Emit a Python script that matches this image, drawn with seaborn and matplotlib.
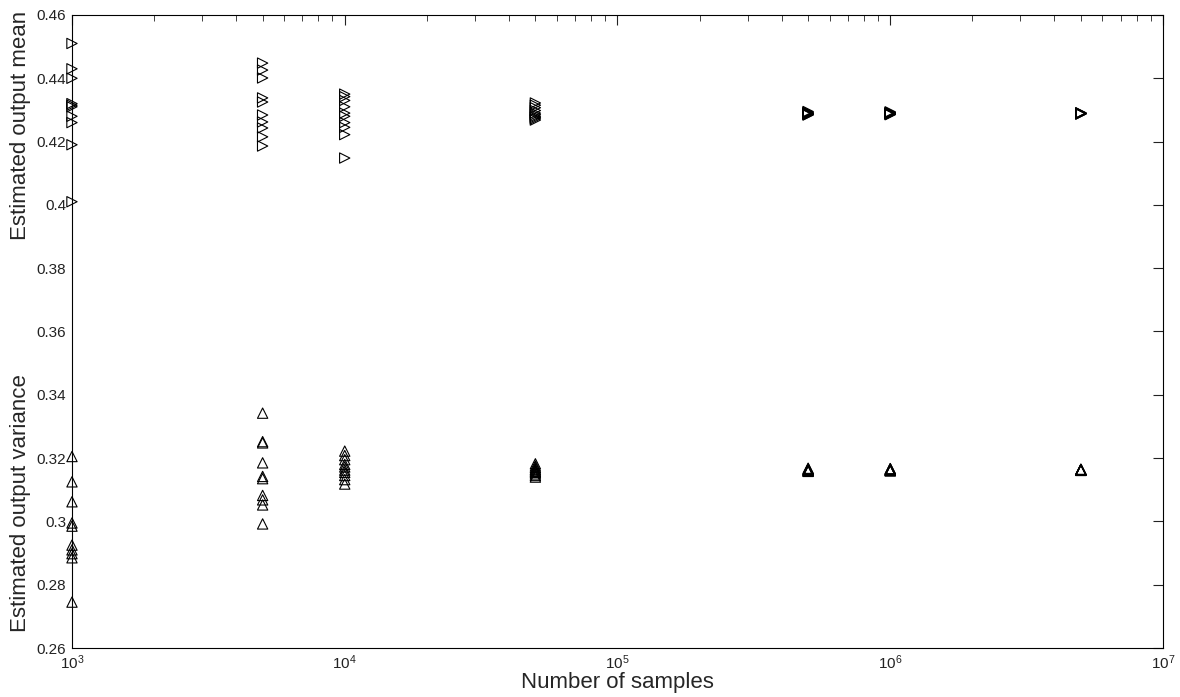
import numpy as np
import pandas as pd
import matplotlib
matplotlib.use("Agg")
import matplotlib.pyplot as plt
from matplotlib.ticker import LogLocator, FormatStrFormatter, MultipleLocator
import seaborn as sns

# ---------------------------------------------------------------------------
# Data (10 repeated estimates per sample size)
# ---------------------------------------------------------------------------
sample_sizes = [1e3, 5e3, 1e4, 5e4, 5e5, 1e6, 5e6]

mean_estimates = [
    [0.451, 0.443, 0.440, 0.432, 0.4315, 0.431, 0.428, 0.426, 0.419, 0.401],
    [0.4448, 0.4426, 0.4401, 0.4338, 0.4325, 0.4284, 0.4262, 0.4243, 0.4215, 0.4186],
    [0.435, 0.4342, 0.433, 0.431, 0.429, 0.428, 0.426, 0.4245, 0.4222, 0.4148],
    [0.4322, 0.4315, 0.4307, 0.4298, 0.429, 0.4285, 0.428, 0.4276, 0.4272, 0.4268],
    [0.4295, 0.4293, 0.4291, 0.429, 0.4289, 0.4288, 0.4287, 0.4286, 0.4285, 0.4284],
    [0.4294, 0.4292, 0.4291, 0.429, 0.4289, 0.4288, 0.4288, 0.4287, 0.4286, 0.4285],
    [0.4291, 0.429, 0.429, 0.4289, 0.4289, 0.4289, 0.4288, 0.4288, 0.4288, 0.4287],
]

var_estimates = [
    [0.3205, 0.3125, 0.3062, 0.2995, 0.2985, 0.2925, 0.291, 0.2898, 0.2885, 0.2745],
    [0.3342, 0.3252, 0.3248, 0.3185, 0.3142, 0.3135, 0.3082, 0.3068, 0.3052, 0.2992],
    [0.3222, 0.3208, 0.3195, 0.318, 0.3172, 0.3162, 0.3155, 0.3145, 0.3132, 0.3118],
    [0.3182, 0.3175, 0.317, 0.3165, 0.3162, 0.3158, 0.3155, 0.315, 0.3145, 0.314],
    [0.3168, 0.3166, 0.3165, 0.3164, 0.3163, 0.3162, 0.3161, 0.316, 0.3159, 0.3158],
    [0.3167, 0.3166, 0.3165, 0.3164, 0.3163, 0.3163, 0.3162, 0.3161, 0.316, 0.316],
    [0.3165, 0.3164, 0.3164, 0.3163, 0.3163, 0.3163, 0.3162, 0.3162, 0.3162, 0.3161],
]

rows = []
for n, means, variances in zip(sample_sizes, mean_estimates, var_estimates):
    rows += [{"n": n, "value": v, "kind": "mean"} for v in means]
    rows += [{"n": n, "value": v, "kind": "variance"} for v in variances]
df = pd.DataFrame(rows)

# ---------------------------------------------------------------------------
# Plot
# ---------------------------------------------------------------------------
sns.set_style("white")
plt.rcParams["font.family"] = ["Liberation Sans", "DejaVu Sans"]
plt.rcParams["xtick.direction"] = "in"
plt.rcParams["ytick.direction"] = "in"

fig = plt.figure(figsize=(11.8, 6.97), dpi=100)
ax = fig.add_axes([0.061, 0.0703, 0.9246, 0.9082])

for kind, marker in [("mean", ">"), ("variance", "^")]:
    sns.scatterplot(
        data=df[df["kind"] == kind],
        x="n",
        y="value",
        marker=marker,
        s=55,
        facecolors="none",
        edgecolor="black",
        linewidth=0.8,
        ax=ax,
        legend=False,
        zorder=3,
        clip_on=False,
    )

ax.set_xscale("log")
ax.set_xlim(1e3, 1e7)
ax.set_ylim(0.26, 0.46)
ax.yaxis.set_major_locator(MultipleLocator(0.02))
ax.yaxis.set_major_formatter(FormatStrFormatter("%g"))
ax.xaxis.set_major_locator(LogLocator(base=10, numticks=10))
ax.xaxis.set_minor_locator(LogLocator(base=10, subs=np.arange(2, 10), numticks=20))

ax.tick_params(which="both", top=True, right=True, colors="#222222", labelsize=11)
ax.tick_params(which="major", length=7.5, width=0.8, pad=4)
ax.tick_params(which="minor", length=4.5, width=0.6)
for spine in ax.spines.values():
    spine.set_visible(True)
    spine.set_color("black")
    spine.set_linewidth(0.8)

ax.set_xlabel("Number of samples", fontsize=16, labelpad=0)
ax.set_ylabel("")
fig.text(0.017, 0.82, "Estimated output mean", rotation=90, fontsize=16,
         ha="center", va="center")
fig.text(0.017, 0.278, "Estimated output variance", rotation=90, fontsize=16,
         ha="center", va="center")

fig.savefig("out.png", dpi=100)
plt.close(fig)
